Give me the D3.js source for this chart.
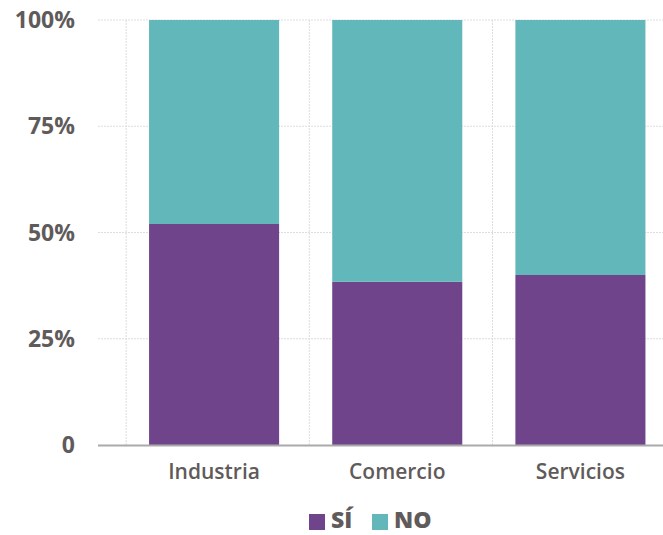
<!DOCTYPE html>
<html>
<head>
<meta charset="utf-8">
<script src="https://cdn.jsdelivr.net/npm/d3@7"></script>
<style>
  body { margin: 0; background: #fff; }
  text { font-family: "Open Sans", Lato, sans-serif; }
</style>
</head>
<body>
<script>
var categories = ["Industria", "Comercio", "Servicios"];
var si = [0.52, 0.384, 0.40];
var no = [0.48, 0.616, 0.60];
var seriesNames = ["SÍ", "NO"];
var yTicks = [0, 0.25, 0.5, 0.75, 1];

var width = 663, height = 535;
var colors = {"SÍ": "#70448b", "NO": "#61b7b9"};

var svg = d3.select("body").append("svg")
    .attr("width", width)
    .attr("height", height);

var x = d3.scaleBand().domain(categories).range([122.5, 672]).paddingInner(0.29).paddingOuter(0.145);
var y = d3.scaleLinear().domain([0, 1]).range([445, 20]);

// gridlines
svg.append("g").selectAll("line.h")
    .data(yTicks.slice(1))
    .enter().append("line")
    .attr("x1", 98).attr("x2", width)
    .attr("y1", function (d) { return y(d); })
    .attr("y2", function (d) { return y(d); })
    .attr("stroke", "#ddd").attr("stroke-dasharray", "2,1");

// vertical gridlines at band boundaries
svg.append("g").selectAll("line.v")
    .data(categories)
    .enter().append("line")
    .attr("x1", function (d) { return x(d) - x.step() * 0.125; })
    .attr("x2", function (d) { return x(d) - x.step() * 0.125; })
    .attr("y1", 20).attr("y2", 445)
    .attr("stroke", "#ddd").attr("stroke-dasharray", "2,1");

var data = categories.map(function (c, i) { return {cat: c, "SÍ": si[i], "NO": no[i]}; });
var stack = d3.stack().keys(seriesNames);
var series = stack(data);

svg.append("g").selectAll("g")
    .data(series)
    .enter().append("g")
    .attr("fill", function (d) { return colors[d.key]; })
    .selectAll("rect")
    .data(function (d) { return d; })
    .enter().append("rect")
    .attr("x", function (d) { return x(d.data.cat); })
    .attr("width", x.bandwidth())
    .attr("y", function (d) { return y(d[1]); })
    .attr("height", function (d) { return y(d[0]) - y(d[1]); });

// x axis line
svg.append("line")
    .attr("x1", 98).attr("x2", width)
    .attr("y1", 445.5).attr("y2", 445.5)
    .attr("stroke", "#aaa").attr("stroke-width", 2);

// y labels
svg.append("g").selectAll("text")
    .data(yTicks)
    .enter().append("text")
    .attr("x", 75)
    .attr("y", function (d) { return y(d) + 8; })
    .attr("text-anchor", "end")
    .attr("fill", "#5f5b5b")
    .attr("font-size", 23)
    .attr("font-weight", "bold")
    .text(function (d) { return d === 0 ? "0" : Math.round(d * 100) + "%"; });

// x labels
svg.append("g").selectAll("text")
    .data(categories)
    .enter().append("text")
    .attr("x", function (d) { return x(d) + x.bandwidth() / 2; })
    .attr("y", 479)
    .attr("text-anchor", "middle")
    .attr("fill", "#5f5b5b")
    .attr("font-size", 21)
    .attr("font-weight", 600)
    .text(function (d) { return d; });

// legend
var legend = svg.append("g");
var lx = [309, 372];
seriesNames.forEach(function (s, i) {
    legend.append("rect")
        .attr("x", lx[i]).attr("y", 514)
        .attr("width", 16).attr("height", 16)
        .attr("fill", colors[s]);
    legend.append("text")
        .attr("x", lx[i] + 22).attr("y", 528)
        .attr("fill", "#5f5b5b")
        .attr("font-size", 23)
        .attr("font-weight", 800)
        .text(s);
});
</script>
</body>
</html>
